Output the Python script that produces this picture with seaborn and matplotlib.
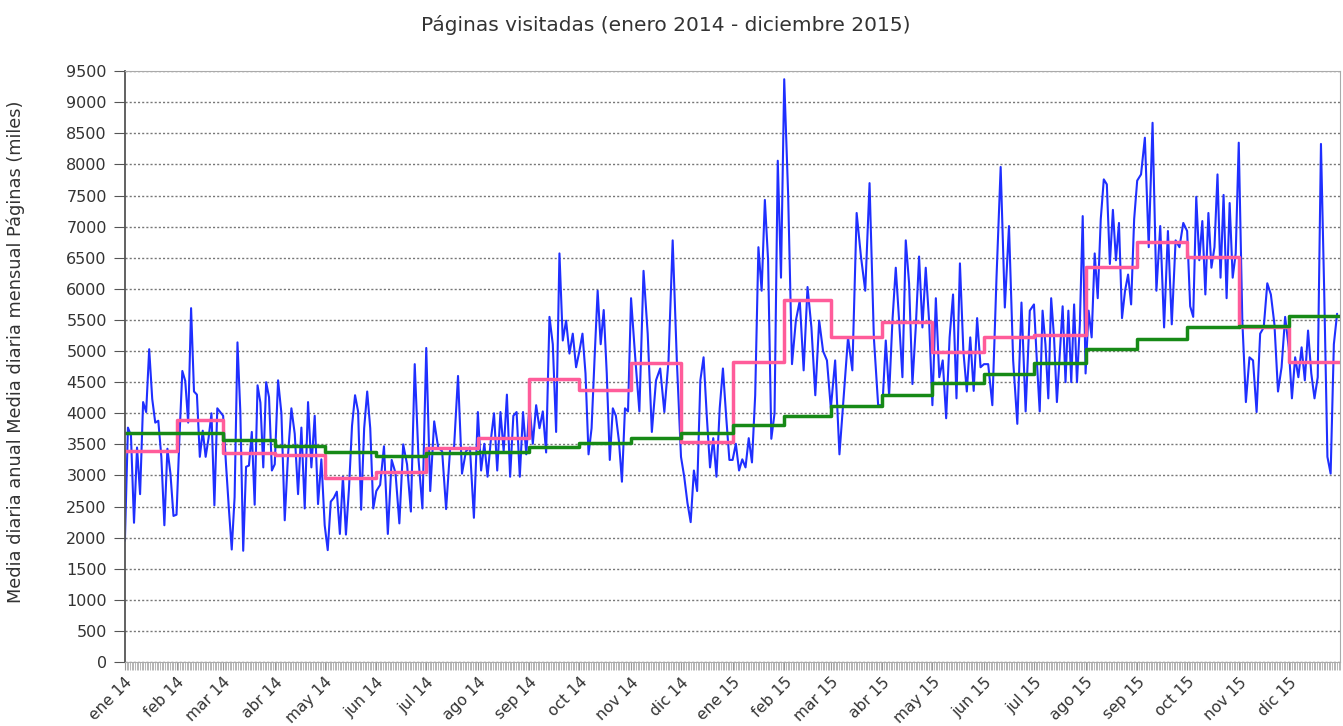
import numpy as np
import pandas as pd
import matplotlib
matplotlib.use("Agg")
import matplotlib.pyplot as plt
import matplotlib.dates as mdates
import seaborn as sns

# Etiquetas de meses (eje x)
meses = ['ene 14', 'feb 14', 'mar 14', 'abr 14', 'may 14', 'jun 14',
         'jul 14', 'ago 14', 'sep 14', 'oct 14', 'nov 14', 'dic 14',
         'ene 15', 'feb 15', 'mar 15', 'abr 15', 'may 15', 'jun 15',
         'jul 15', 'ago 15', 'sep 15', 'oct 15', 'nov 15', 'dic 15']

# Media diaria mensual (rosa)
media_mensual = [3390, 3890, 3360, 3330, 2960, 3060, 3440, 3600, 4550, 4370, 4810, 3540,
                 4830, 5820, 5230, 5460, 4990, 5230, 5260, 6350, 6760, 6520, 5390, 4820]

# Media diaria anual (verde, media de 12 meses)
media_anual = [3680, 3680, 3575, 3470, 3370, 3320, 3360, 3370, 3450, 3530, 3600, 3690,
               3810, 3960, 4110, 4290, 4490, 4630, 4810, 5040, 5200, 5390, 5400, 5560]

# Paginas diarias (azul), muestras leidas por mes
diarias_2014 = [
    [1950, 3770, 3640, 2240, 3450, 2700, 4180, 4020, 5030, 4230, 3850, 3880, 3300, 2200, 3430, 3030, 2350],
    [2370, 3600, 4680, 4520, 3850, 5690, 4350, 4300, 3300, 3720, 3300, 3600, 4000, 2520, 4080, 4020],
    [3960, 3180, 2470, 1810, 2650, 5140, 4020, 1790, 3140, 3160, 3700, 2530, 4450, 4170, 3130, 4500, 4260, 3080],
    [3180, 4530, 4000, 2280, 3340, 4080, 3670, 2700, 3770, 2470, 4180, 3130, 3960, 2540, 3260],
    [2200, 1800, 2580, 2640, 2740, 2060, 2980, 2050, 2790, 3800, 4290, 4030, 2450, 3760, 4350, 3760, 2470],
    [2750, 2850, 3470, 2060, 3250, 3040, 2230, 3500, 3180, 2420, 4790, 3250, 2470],
    [5050, 2750, 3870, 3450, 3390, 2460, 3420, 3450, 4600, 3030, 3390, 3450, 2320],
    [4020, 3080, 3510, 2980, 3560, 4000, 3080, 4020, 3390, 4300, 2980, 3960, 4020, 2980, 4020, 3340],
    [4130, 3510, 4130, 3760, 4030, 3370, 5550, 5110, 3700, 6570, 5170, 5490, 4960, 5280, 4740],
    [5000, 5280, 4640, 3340, 3760, 4900, 5970, 5110, 5660, 4640, 3250, 4080, 3960, 3560, 2900, 4080, 4030],
    [5850, 4900, 4030, 6290, 5280, 3700, 4530, 4720, 4020, 4850, 6780, 4850],
    [3300, 2980, 2560, 2250, 3080, 2750, 4530, 4900, 3950, 3130, 3600, 2980, 4080, 4720, 3950, 3250],
]
diarias_2015 = [
    [3250, 3510, 3080, 3260, 3130, 3600, 3210, 4290, 6670, 5970, 7430, 6460, 3590, 4000, 8060, 6180],
    [9370, 7530, 4790, 5490, 5810, 4690, 6030, 5380, 4290, 5490, 5000, 4850],
    [4080, 4850, 3340, 4290, 5220, 4690, 7220, 6520, 5970, 7700, 5220, 4130],
    [4130, 5170, 4290, 5490, 6340, 5490, 4580, 6780, 6090, 4470, 5380, 6520, 5380, 6340, 5490],
    [4130, 5850, 4580, 4850, 3920, 5220, 5910, 4240, 6410, 5000, 4350, 5220, 4360, 5530, 4740],
    [4790, 4790, 4130, 6180, 7960, 5700, 7010, 4850, 3830, 5780, 4030, 5650],
    [5750, 4850, 4030, 5650, 5110, 4240, 5850, 5220, 4180, 4960, 5720, 4500, 5650, 4500, 5750, 4500, 5430, 7170],
    [4640, 5650, 5220, 6570, 5850, 7120, 7760, 7680, 6400, 7270, 6460, 7060, 5530, 5970, 6230, 5750, 7120],
    [7740, 7840, 8430, 6670, 8670, 5970, 7010, 5380, 6930, 5430, 6780, 6670, 7060],
    [6930, 5720, 5550, 7480, 6460, 7090, 5910, 7220, 6340, 6670, 7840, 6180, 7510, 5850, 7380, 6180, 6570],
    [8350, 5490, 4180, 4900, 4850, 4020, 5280, 5380, 6090, 5910, 5430, 4350, 4740, 5550],
    [5060, 4240, 4900, 4580, 5060, 4530, 5330, 4640, 4240, 4580, 8330, 5970, 3300, 3030, 5110, 5600],
]

# --- construir tablas ---
inicios = pd.date_range('2014-01-01', periods=25, freq='MS')
fechas, valores = [], []
for i, vals in enumerate(diarias_2014 + diarias_2015):
    dias = (inicios[i + 1] - inicios[i]).days
    offs = np.linspace(0, dias, len(vals), endpoint=False)
    fechas += [inicios[i] + pd.Timedelta(days=float(o)) for o in offs]
    valores += vals
df_diario = pd.DataFrame({'fecha': fechas, 'paginas': valores})

df_mensual = pd.DataFrame({'fecha': inicios, 'valor': media_mensual + [media_mensual[-1]]})
df_anual = pd.DataFrame({'fecha': inicios, 'valor': media_anual + [media_anual[-1]]})

# --- dibujo ---
sns.set_style('white')
plt.rcParams['font.family'] = ['DejaVu Sans']

fig = plt.figure(figsize=(13.43, 7.26), dpi=100)
ax = fig.add_axes([0.093, 0.088, 0.905, 0.814])

sns.lineplot(data=df_diario, x='fecha', y='paginas', color='#1f2fff', linewidth=1.5, ax=ax)
sns.lineplot(data=df_mensual, x='fecha', y='valor', color='#ff5c9a', linewidth=2.5,
             drawstyle='steps-post', ax=ax)
sns.lineplot(data=df_anual, x='fecha', y='valor', color='#178a17', linewidth=2.5,
             drawstyle='steps-post', ax=ax)

ax.set_xlim(inicios[0], inicios[-1])
ax.set_ylim(0, 9500)
ax.set_yticks(np.arange(0, 9501, 500))
ax.tick_params(axis='y', labelsize=11.5, length=8, color='#555', left=True, pad=5,
               labelcolor='#333')

ax.set_xticks(inicios[:-1])
ax.set_xticklabels(meses, rotation=45, ha='right', rotation_mode='anchor', fontsize=11.2,
                   color='#333')
ax.xaxis.set_minor_locator(mdates.DayLocator())
ax.tick_params(axis='x', which='major', length=6, color='#999', bottom=True, pad=3)
ax.tick_params(axis='x', which='minor', length=6, color='#aaa', width=0.6, bottom=True)

ax.yaxis.grid(True, linestyle=(0, (1.5, 1.5)), color='#777', linewidth=1)
ax.set_axisbelow(True)
for s in ['top', 'right', 'bottom']:
    ax.spines[s].set_color('#aaa')
ax.spines['left'].set_color('#555')
ax.spines['left'].set_linewidth(1.3)

ax.set_xlabel('')
ax.set_ylabel('Media diaria anual Media diaria mensual Páginas (miles)', fontsize=12.8,
              color='#333')
ax.yaxis.set_label_coords(-0.082, 0.525)
fig.suptitle('Páginas visitadas (enero 2014 - diciembre 2015)', fontsize=14.5,
             x=0.496, y=0.98, color='#333')

fig.savefig('out.png', dpi=100)
